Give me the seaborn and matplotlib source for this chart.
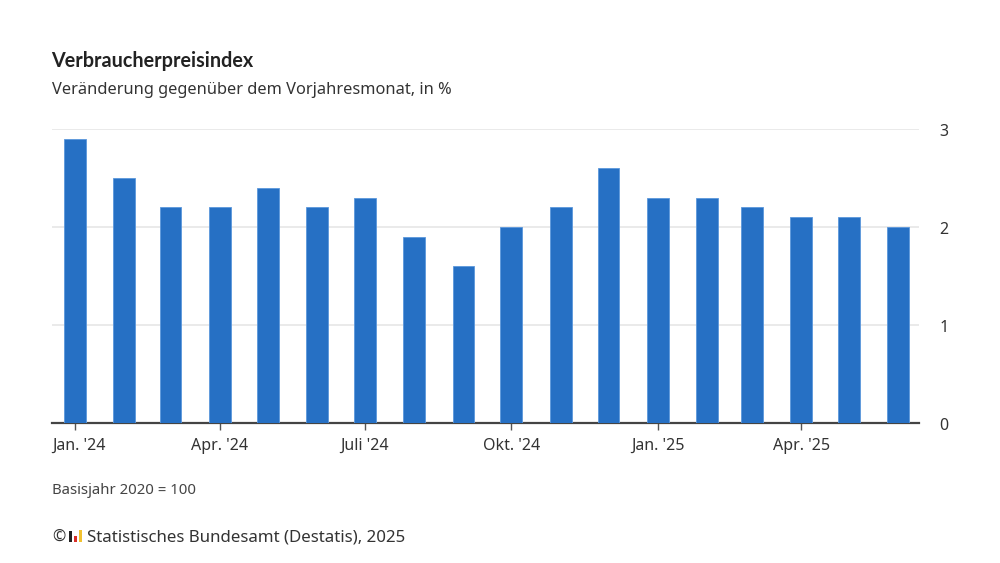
import matplotlib
matplotlib.use("Agg")
import matplotlib.pyplot as plt
import matplotlib.transforms as mtransforms
import pandas as pd
import seaborn as sns

# monthly values, change on previous year in %
months = ["2024-01-01", "2024-02-01", "2024-03-01", "2024-04-01", "2024-05-01", "2024-06-01",
          "2024-07-01", "2024-08-01", "2024-09-01", "2024-10-01", "2024-11-01", "2024-12-01",
          "2025-01-01", "2025-02-01", "2025-03-01", "2025-04-01", "2025-05-01", "2025-06-01"]
values = [2.9, 2.5, 2.2, 2.2, 2.4, 2.2, 2.3, 1.9, 1.6, 2.0, 2.2, 2.6, 2.3, 2.3, 2.2, 2.1, 2.1, 2.0]
tick_months = ["2024-01-01", "2024-04-01", "2024-07-01", "2024-10-01", "2025-01-01", "2025-04-01"]
tick_labels = ["Jan. '24", "Apr. '24", "Juli '24", "Okt. '24", "Jan. '25", "Apr. '25"]
y_ticks = [0, 1, 2, 3]

# logo of the source line
logo_values = [3, 1.6, 3.4]
logo_colors = ["#222222", "#d8302a", "#f2c230"]

start = pd.Timestamp("2024-01-01")
df = pd.DataFrame({"day": (pd.to_datetime(months) - start).days, "value": values})
tick_days = (pd.to_datetime(tick_months) - start).days

sns.set_theme(style="white")
plt.rcParams["font.family"] = ["Noto Sans", "DejaVu Sans"]

W, H = 1000, 563
fig = plt.figure(figsize=(W / 100, H / 100), dpi=100, facecolor="white")
ax = fig.add_axes([52 / W, 1 - 423 / H, (919 - 52) / W, (423 - 129) / H])

sns.barplot(data=df, x="day", y="value", native_scale=True, width=0.49,
            color="#2670c4", saturation=1, edgecolor="#5b97dc", linewidth=0.6, zorder=3, ax=ax)

ax.set_xlim(-14.4, 530)
ax.set_ylim(0, 3)
ax.set_xlabel("")
ax.set_ylabel("")

ax.yaxis.tick_right()
ax.set_yticks(y_ticks)
ax.set_yticklabels([str(t) for t in y_ticks], fontsize=11.5, color="#333333", va="center")
ax.tick_params(axis="y", length=0, pad=14.5)
ax.grid(axis="y", color="#e6e6e6", linewidth=1.2, zorder=0)
ax.set_axisbelow(True)
# labels sit a little lower than the grid lines
down = mtransforms.ScaledTranslation(0, -0.025, fig.dpi_scale_trans)
for lab in ax.get_yticklabels():
    lab.set_transform(lab.get_transform() + down)

ax.set_xticks(tick_days)
ax.set_xticklabels(tick_labels, fontsize=11.5, color="#333333")
ax.tick_params(axis="x", length=5, width=1, color="#555555", pad=6, bottom=True)
# first label starts at the left edge of the chart
first = ax.get_xticklabels()[0]
first.set_horizontalalignment("left")
first.set_transform(first.get_transform() + mtransforms.ScaledTranslation(-0.23, 0, fig.dpi_scale_trans))

for side in ["top", "left", "right"]:
    ax.spines[side].set_visible(False)
ax.spines["bottom"].set_color("#444444")
ax.spines["bottom"].set_linewidth(1.6)

fig.text(51.5 / W, 1 - 61 / H, "Verbraucherpreisindex", fontsize=14.2, fontweight="bold",
         family="Lato", color="#222222", va="center")
fig.text(52 / W, 1 - 90 / H, "Veränderung gegenüber dem Vorjahresmonat, in %", fontsize=11.8,
         color="#333333", va="center")
fig.text(52 / W, 1 - 490 / H, "Basisjahr 2020 = 100", fontsize=10.75, color="#444444", va="center")
fig.text(52 / W, 1 - 537 / H, "©", fontsize=11.5, color="#333333", va="center")
fig.text(87 / W, 1 - 537 / H, "Statistisches Bundesamt (Destatis), 2025", fontsize=12.15,
         color="#333333", va="center")

logo = fig.add_axes([68 / W, 1 - 542 / H, 15 / W, 12 / H])
sns.barplot(x=[0, 1, 2], y=logo_values, hue=[0, 1, 2], palette=logo_colors, saturation=1,
            legend=False, width=0.75, dodge=False, linewidth=0, ax=logo)
logo.set_ylim(0, 3.4)
logo.axis("off")

fig.savefig("out.png", dpi=100)
